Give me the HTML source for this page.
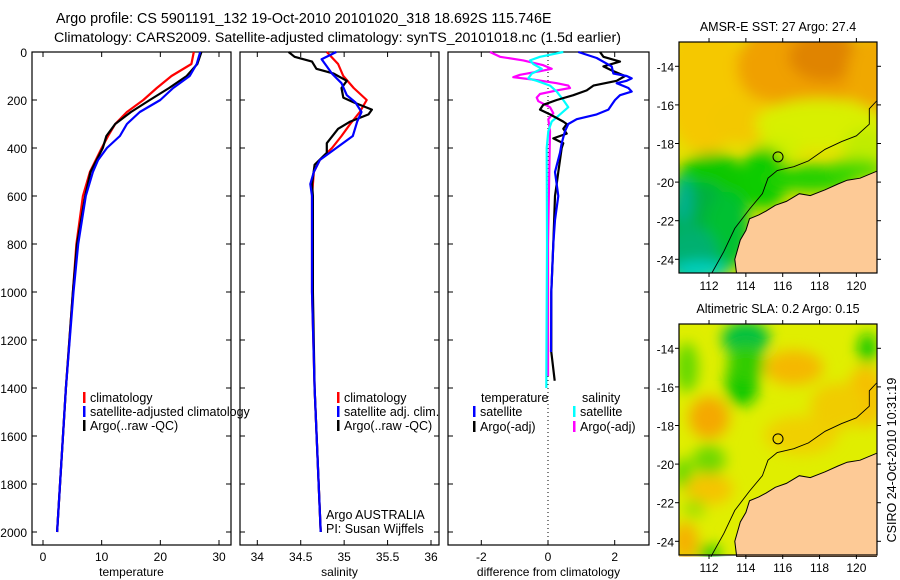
<!DOCTYPE html>
<html><head><meta charset="utf-8"><style>
body{margin:0;background:#fff;}
svg{display:block;font-family:"Liberation Sans",sans-serif;}
</style></head><body>
<svg id="fig" width="900" height="580" viewBox="0 0 900 580">
<defs>
<filter id="blur6" x="-20%" y="-20%" width="140%" height="140%"><feGaussianBlur stdDeviation="7"/></filter>
<clipPath id="clipM1"><rect x="679" y="42" width="198" height="231"/></clipPath>
<clipPath id="clipM2"><rect x="679" y="324" width="198" height="233"/></clipPath>
</defs>
<text x="56" y="23" font-size="14.3">Argo profile: CS 5901191_132 19-Oct-2010 20101020_318 18.692S 115.746E</text>
<text x="54" y="42" font-size="14.2">Climatology: CARS2009. Satellite-adjusted climatology: synTS_20101018.nc (1.5d earlier)</text>
<g id="plots"></g>
<g id="maps"></g>
<text transform="translate(896,460) rotate(-90)" text-anchor="middle" font-size="12.5">CSIRO 24-Oct-2010 10:31:19</text>
</svg>
<script>
// ---- data ----
const depthTicks = [0,200,400,600,800,1000,1200,1400,1600,1800,2000];
const tempTicks = [0,10,20,30];
const salTicks = [34,34.5,35,35.5,36];
const diffTicks = [-2,0,2];

const tClimDepth = [0,50,100,150,200,250,300,350,400,500,600,800,1000,1400,2000];
const tClimVal   = [25.7,25.3,21.9,19.4,17.1,14.3,12.3,11.1,10.0,8.0,6.8,5.7,5.1,3.9,2.4];
const tSatDepth  = [0,50,100,150,200,250,300,350,400,450,500,600,800,1000,1400,2000];
const tSatVal    = [26.8,26.2,25.0,22.2,20.0,16.5,14.3,13.1,10.9,9.4,8.5,7.3,6.0,5.2,3.9,2.4];
const tArgoDepth = [0,50,100,150,200,250,300,350,400,500,600,800,1000,1400,2000];
const tArgoVal   = [27.0,26.3,24.5,21.5,18.2,15.0,12.3,10.8,10.2,8.1,7.2,5.8,5.1,3.9,2.4];

const sClimDepth = [0,50,100,150,200,250,300,350,400,450,500,600,1000,1400,2000];
const sClimVal   = [34.80,34.93,34.99,35.11,35.26,35.18,35.07,34.97,34.86,34.72,34.65,34.63,34.63,34.66,34.73];
const sSatDepth  = [0,30,60,90,130,180,210,250,290,350,400,450,500,550,600,1000,1400,2000];
const sSatVal    = [34.91,34.74,34.80,34.86,34.97,35.03,35.13,35.20,35.15,35.10,34.91,34.72,34.65,34.61,34.63,34.63,34.66,34.73];
const sArgoDepth = [0,20,40,70,90,120,150,190,210,240,260,290,320,380,420,470,550,600,1000,1400,2000];
const sArgoVal   = [34.36,34.43,34.63,34.68,34.88,35.03,34.97,34.99,35.11,35.32,35.28,35.07,34.93,34.80,34.80,34.66,34.63,34.64,34.64,34.66,34.73];

const dTSatDepth = [0,25,60,90,100,110,120,130,150,165,180,200,220,240,260,280,300,330,380,420,500,600,700,800,1000,1250];
const dTSatVal   = [0.91,1.46,1.91,1.96,2.36,2.51,2.36,2.06,2.41,2.51,2.16,2.01,1.91,1.81,1.46,0.86,0.61,0.51,0.41,0.36,0.21,0.31,0.21,0.16,0.10,0.09];
const dTArgoDepth = [0,20,40,60,80,100,120,140,160,180,200,220,240,260,290,300,320,340,360,380,400,450,500,550,600,800,1000,1250,1370];
const dTArgoVal   = [1.56,1.66,2.16,1.66,1.96,2.31,2.06,1.36,1.16,0.76,0.26,-0.14,-0.24,0.06,0.46,0.56,0.46,0.56,0.16,0.46,0.41,0.36,0.31,0.26,0.21,0.16,0.10,0.10,0.20];
const dSSatDepth = [0,20,35,50,70,90,110,120,140,165,200,230,260,290,330,400,800,1400];
const dSSatVal   = [0.46,-0.24,-0.54,-0.44,-0.19,-0.49,-0.59,-0.34,0.06,0.26,0.46,0.61,0.36,0.11,0.01,-0.04,-0.03,-0.05];
const dSArgoDepth = [0,20,35,55,70,80,95,105,115,130,140,150,160,175,190,205,230,255,280,330,800,1350];
const dSArgoVal   = [-1.74,-1.44,-0.74,-0.14,0.11,-0.24,-0.84,-1.04,-0.44,0.26,0.61,0.66,0.26,-0.24,-0.34,-0.29,0.06,0.16,0.01,0.06,0.0,0.0];

// ---- axes ----
const NS = 'http://www.w3.org/2000/svg';
const yTop = 52, yBot = 545;
function yScale(d){ return 52 + d*0.24; }
const panels = {
  t: {x0:32, x1:231, a:43, b:219, va:0, vb:30},
  s: {x0:240, x1:439, a:257.3, b:431, va:34, vb:36},
  d: {x0:448, x1:649, a:481.3, b:614.7, va:-2, vb:2}
};
function xScale(p, v){ return p.a + (v - p.va)*(p.b - p.a)/(p.vb - p.va); }
const plots = document.getElementById('plots');
function mk(tag, attrs, parent){ const e=document.createElementNS(NS,tag); for(const k in attrs) e.setAttribute(k,attrs[k]); (parent||plots).appendChild(e); return e; }

function drawPanel(p, ticks, label, name){
  const g = mk('g',{});
  
  
  mk('rect',{x:p.x0,y:yTop,width:p.x1-p.x0,height:yBot-yTop,fill:'none',stroke:'#000','stroke-width':1.2},g);
  ticks.forEach(v=>{
    const x = xScale(p,v);
    mk('line',{x1:x,x2:x,y1:yBot,y2:yBot-5,stroke:'#000'},g);
    mk('line',{x1:x,x2:x,y1:yTop,y2:yTop+5,stroke:'#000'},g);
    const t = mk('text',{x:x,y:yBot+16,'text-anchor':'middle','font-size':12},g);
    t.textContent = v;
    
    
  });
  depthTicks.forEach(d=>{
    const y = yScale(d);
    mk('line',{x1:p.x0,x2:p.x0+5,y1:y,y2:y,stroke:'#000'},g);
    mk('line',{x1:p.x1,x2:p.x1-5,y1:y,y2:y,stroke:'#000'},g);
  });
  const lt = mk('text',{x:(p.x0+p.x1)/2,y:yBot+31,'text-anchor':'middle','font-size':12},g);
  lt.textContent = label;
  
  
}
function drawLine(p, depths, vals, color, name){
  let d='';
  depths.forEach((dep,i)=>{ d += (i?'L':'M') + xScale(p,vals[i]).toFixed(1) + ',' + yScale(dep).toFixed(1); });
  const e = mk('path',{d:d,fill:'none',stroke:color,'stroke-width':2.2,'stroke-linejoin':'round'});
  
  
}
drawPanel(panels.t, tempTicks, 'temperature', 'temperature');
drawPanel(panels.s, salTicks, 'salinity', 'salinity');
drawPanel(panels.d, diffTicks, 'difference from climatology', 'difference');
depthTicks.forEach(d=>{
  const t = mk('text',{x:27,y:yScale(d)+5,'text-anchor':'end','font-size':12});
  t.textContent = d;
  
  
});
mk('line',{x1:xScale(panels.d,0),x2:xScale(panels.d,0),y1:yTop,y2:yBot,stroke:'#000','stroke-dasharray':'1,3'});

drawLine(panels.t, tClimDepth, tClimVal, '#ff0000', 'temp-climatology-line');
drawLine(panels.t, tArgoDepth, tArgoVal, '#000000', 'temp-argo-line');
drawLine(panels.t, tSatDepth, tSatVal, '#0000ff', 'temp-satellite-line');
drawLine(panels.s, sClimDepth, sClimVal, '#ff0000', 'sal-climatology-line');
drawLine(panels.s, sArgoDepth, sArgoVal, '#000000', 'sal-argo-line');
drawLine(panels.s, sSatDepth, sSatVal, '#0000ff', 'sal-satellite-line');
drawLine(panels.d, dSArgoDepth, dSArgoVal, '#ff00ff', 'diff-sal-argo-line');
drawLine(panels.d, dSSatDepth, dSSatVal, '#00ffff', 'diff-sal-satellite-line');
drawLine(panels.d, dTArgoDepth, dTArgoVal, '#000000', 'diff-temp-argo-line');
drawLine(panels.d, dTSatDepth, dTSatVal, '#0000ff', 'diff-temp-satellite-line');

function legend(x, y, color, text, name){
  if(color){ mk('rect',{x:x,y:y-10,width:2.5,height:11,fill:color}); }
  const t = mk('text',{x:x+7,y:y,'font-size':12.5});
  t.textContent = text;
  
  
}
legend(83,402,'#ff0000','climatology','legend-climatology');
legend(83,416,'#0000ff','satellite-adjusted climatology','legend-satellite-adjusted');
legend(83,430,'#000000','Argo(..raw -QC)','legend-argo');
legend(337,402,'#ff0000','climatology','legend-sal-climatology');
legend(337,416,'#0000ff','satellite adj. clim.','legend-sal-satellite');
legend(337,430,'#000000','Argo(..raw -QC)','legend-sal-argo');
legend(319,519,null,'Argo AUSTRALIA','argo-australia-note');
legend(319,533,null,'PI: Susan Wijffels','pi-note');
legend(474,402,null,'temperature','legend-temperature-header');
legend(473,416,'#0000ff','satellite','legend-diff-temp-satellite');
legend(473,431,'#000000','Argo(-adj)','legend-diff-temp-argo');
legend(575,402,null,'salinity','legend-salinity-header');
legend(573,416,'#00ffff','satellite','legend-diff-sal-satellite');
legend(573,431,'#ff00ff','Argo(-adj)','legend-diff-sal-argo');

// ---- maps ----
const maps = document.getElementById('maps');
const lonTicks = [112,114,116,118,120];
const latTicks = [-14,-16,-18,-20,-22,-24];
const land = [[113.5,-24.8],[113.4,-24],[113.7,-23],[114.0,-22.5],[114.2,-21.9],[114.7,-21.7],[115.1,-21.5],[115.6,-21.2],[116.2,-21],[116.9,-20.6],[117.5,-20.7],[118.3,-20.4],[119,-20.1],[119.5,-19.9],[120.2,-19.8],[121.2,-19.4],[121.2,-24.8]];
const contour = [[112.1,-24.8],[112.8,-23.6],[113.4,-22.4],[114.2,-21.4],[114.9,-20.6],[115.2,-19.8],[115.7,-19.4],[116.6,-19.2],[117.4,-18.9],[118.3,-18.3],[119.2,-17.9],[120,-17.6],[120.7,-17.0],[120.7,-16.2],[121.1,-15.8]];
function mkm(tag, attrs, parent){ const e=document.createElementNS(NS,tag); for(const k in attrs) e.setAttribute(k,attrs[k]); (parent||maps).appendChild(e); return e; }
function drawMap(top, title, blobs, base, name){
  const x0=679, x1=877, y0=top, y1=top+231;
  const mx = lon => x0 + (lon-110.37)*18.42;
  const my = lat => y0 + 24.3 + (-14 - lat)*19.3;
  const g = mkm('g',{});
  
  
  const cg = mkm('g',{'clip-path': top<100 ? 'url(#clipM1)' : 'url(#clipM2)'}, g);
  mkm('rect',{x:x0,y:y0,width:x1-x0,height:y1-y0,fill:base},cg);
  const bg = mkm('g',{filter:'url(#blur6)'},cg);
  blobs.forEach(b=>{ mkm('ellipse',{cx:mx(b[0]),cy:my(b[1]),rx:b[2]*18.42,ry:b[3]*19.3,fill:b[4]},bg); });
  mkm('polygon',{points:land.map(p=>mx(p[0]).toFixed(1)+','+my(p[1]).toFixed(1)).join(' '),fill:'#fdca96',stroke:'#000','stroke-width':1},cg);
  mkm('polyline',{points:contour.map(p=>mx(p[0]).toFixed(1)+','+my(p[1]).toFixed(1)).join(' '),fill:'none',stroke:'#000','stroke-width':0.9},cg);
  const c = mkm('circle',{cx:mx(115.746),cy:my(-18.692),r:5,fill:'none',stroke:'#000','stroke-width':1},g);
  
  
  mkm('rect',{x:x0,y:y0,width:x1-x0,height:y1-y0,fill:'none',stroke:'#000','stroke-width':1.2},g);
  lonTicks.forEach(l=>{
    const x=mx(l);
    mkm('line',{x1:x,x2:x,y1:y0,y2:y0-4,stroke:'#000'},g);
    mkm('line',{x1:x,x2:x,y1:y1,y2:y1+4,stroke:'#000'},g);
    const t=mkm('text',{x:x,y:y1+17,'text-anchor':'middle','font-size':12},g);
    t.textContent=l;
    
    
  });
  latTicks.forEach(l=>{
    const y=my(l);
    mkm('line',{x1:x0,x2:x0-4,y1:y,y2:y,stroke:'#000'},g);
    mkm('line',{x1:x1,x2:x1+4,y1:y,y2:y,stroke:'#000'},g);
    const t=mkm('text',{x:x0-5,y:y+5,'text-anchor':'end','font-size':12},g);
    t.textContent=l;
    
    
  });
  const tt=mkm('text',{x:(x0+x1)/2,y:y0-11,'text-anchor':'middle','font-size':12.5},g);
  tt.textContent=title;
  
  
}
const sstBlobs = [
  [111.8,-15,2.2,3.5,'#f5c800'],[117,-14,3.5,2.5,'#f0a000'],[118.3,-13.5,2,1.3,'#e08400'],[121,-14.5,1.5,2.2,'#f0a800'],
  [114,-16.8,2,1.2,'#f3c800'],[118,-17.0,3.5,1.3,'#d8f000'],[120.5,-18.2,1.2,1,'#c0ec00'],[115.8,-18.3,1.2,0.8,'#d0f000'],
  [112.2,-20.5,2.2,2.0,'#10c800'],[115,-19.8,1.3,1.6,'#10cc00'],[117.5,-19.8,2.5,0.7,'#20d000'],[120,-19.3,1.5,0.5,'#40d800'],
  [111.5,-22.5,2,2.5,'#00b040'],[113,-22.5,1.2,2,'#00c030'],[111,-23.8,1.5,1.5,'#00b070'],[111.5,-24.6,1.5,0.5,'#00d0c0'],[110.6,-21,0.5,1.2,'#00b090']
];
const slaBlobs = [
  [114,-13.5,1.3,0.9,'#00c040'],[113.8,-15.8,0.9,1.2,'#10c800'],[114,-14.8,1.0,1.0,'#30cc00'],[110.8,-15,0.6,1.3,'#60d800'],
  [112,-17.6,1.1,1.1,'#f5a800'],[116.6,-15,1.6,0.9,'#f5b800'],[120.5,-16.5,1,1.6,'#f5c000'],[120.6,-14,0.5,0.8,'#10c800'],
  [112,-19.8,0.9,0.8,'#70d800'],[110.6,-20.5,0.5,0.8,'#60d800'],[112,-21.3,1.3,0.8,'#f5c400'],[111.2,-22.3,0.6,0.5,'#a0e000'],
  [110.7,-24,0.7,1,'#f5b000'],[112,-24.6,0.6,0.4,'#10c800'],[117,-18.5,2,1,'#f0d000'],[119,-17,1.5,1.2,'#f0cc00']
];
drawMap(42, 'AMSR-E SST: 27 Argo: 27.4', sstBlobs, '#e6e000', 'sst-map');
drawMap(324, 'Altimetric SLA: 0.2 Argo: 0.15', slaBlobs, '#e0ee00', 'sla-map');
</script>
</body></html>
